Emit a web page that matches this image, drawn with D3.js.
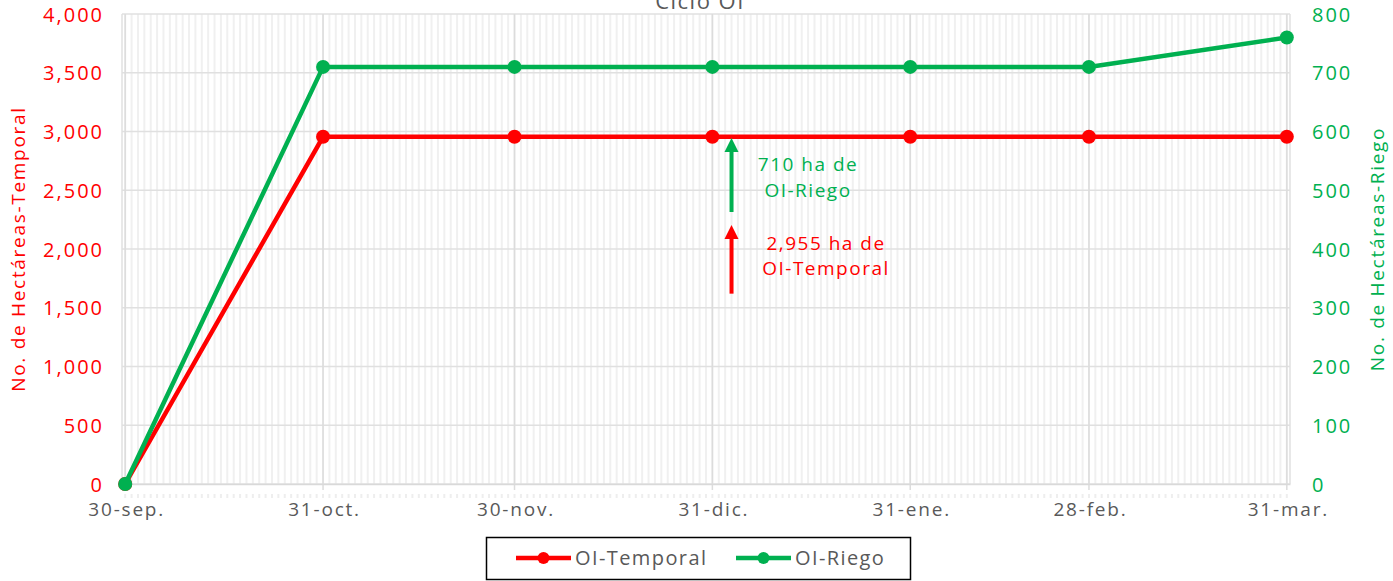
<!DOCTYPE html>
<html>
<head>
<meta charset="utf-8">
<script src="https://cdn.jsdelivr.net/npm/d3@7"></script>
<style>
  body { margin: 0; background: #fff; }
  text { font-family: "Open Sans", "Noto Sans", sans-serif; }
</style>
</head>
<body>
<div id="chart"></div>
<script>
// data
var dates = ["2022-09-30", "2022-10-31", "2022-11-30", "2022-12-31", "2023-01-31", "2023-02-28", "2023-03-31"];
var tickLabels = ["30-sep.", "31-oct.", "30-nov.", "31-dic.", "31-ene.", "28-feb.", "31-mar."];
var temporal = [0, 2955, 2955, 2955, 2955, 2955, 2955];
var riego = [0, 710, 710, 710, 710, 710, 760];
var leftTicks = [0, 500, 1000, 1500, 2000, 2500, 3000, 3500, 4000];
var rightTicks = [0, 100, 200, 300, 400, 500, 600, 700, 800];
// annotation arrows: [date, from value, to value] on the left axis
var riegoArrow = ["2023-01-03", 2315, 2945];
var temporalArrow = ["2023-01-03", 1620, 2205];

var red = "#FF0000", green = "#00B050", grey = "#595959";

var W = 1393, H = 581,
    plot = {left: 122, right: 1290, top: 14, bottom: 484};

var parse = d3.utcParse("%Y-%m-%d");
var days = dates.map(parse);

var svg = d3.select("#chart").append("svg")
    .attr("width", W)
    .attr("height", H);

var x = d3.scaleUtc()
    .domain([d3.utcHour.offset(days[0], -12), d3.utcHour.offset(days[days.length - 1], 12)])
    .range([plot.left, plot.right]);
var yL = d3.scaleLinear().domain([0, 4000]).range([plot.bottom, plot.top]);
var yR = d3.scaleLinear().domain([0, 800]).range([plot.bottom, plot.top]);

// daily minor gridlines
var allDays = d3.utcDay.range(days[0], d3.utcDay.offset(days[days.length - 1], 1));
svg.append("g").selectAll("line")
    .data(allDays)
    .enter()
    .append("line")
    .attr("x1", function(d){ return x(d); })
    .attr("x2", function(d){ return x(d); })
    .attr("y1", plot.top)
    .attr("y2", plot.bottom)
    .attr("stroke", "#F0F0F0")
    .attr("stroke-width", 2);

// faint minor ticks under axis
svg.append("g").selectAll("line")
    .data(allDays)
    .enter()
    .append("line")
    .attr("x1", function(d){ return x(d); })
    .attr("x2", function(d){ return x(d); })
    .attr("y1", plot.bottom + 10)
    .attr("y2", plot.bottom + 14)
    .attr("stroke", "#EEEEEE")
    .attr("stroke-width", 2);

// horizontal major gridlines
svg.append("g").selectAll("line")
    .data(leftTicks)
    .enter()
    .append("line")
    .attr("x1", plot.left)
    .attr("x2", plot.right)
    .attr("y1", function(d){ return yL(d); })
    .attr("y2", function(d){ return yL(d); })
    .attr("stroke", "#E0E0E0")
    .attr("stroke-width", 1.5);

// vertical major gridlines + ticks
svg.append("g").selectAll("line")
    .data(days)
    .enter()
    .append("line")
    .attr("x1", function(d){ return x(d); })
    .attr("x2", function(d){ return x(d); })
    .attr("y1", plot.top)
    .attr("y2", plot.bottom + 6)
    .attr("stroke", "#DCDCDC")
    .attr("stroke-width", 1.5);

// plot border sides
svg.append("line")
    .attr("x1", plot.left).attr("x2", plot.left)
    .attr("y1", plot.top).attr("y2", plot.bottom)
    .attr("stroke", "#E0E0E0").attr("stroke-width", 1.5);
svg.append("line")
    .attr("x1", plot.right).attr("x2", plot.right)
    .attr("y1", plot.top).attr("y2", plot.bottom)
    .attr("stroke", "#E0E0E0").attr("stroke-width", 1.5);

// x axis
var xAxis = d3.axisBottom(x)
    .tickValues(days)
    .tickFormat(function(d, i){ return tickLabels[i]; })
    .tickSize(0)
    .tickPadding(19);
var gx = svg.append("g")
    .attr("transform", "translate(0," + plot.bottom + ")")
    .call(xAxis);
gx.select(".domain").attr("stroke", "#D9D9D9").attr("stroke-width", 1.5);
gx.selectAll("text")
    .attr("fill", grey)
    .attr("dx", "1px")
    .style("letter-spacing", "1.8px")
    .style("font-size", "19px");

// left axis
var gl = svg.append("g")
    .attr("transform", "translate(" + (plot.left - 20) + ",0)")
    .call(d3.axisLeft(yL).tickValues(leftTicks).tickFormat(d3.format(",")).tickSize(0));
gl.select(".domain").remove();
gl.selectAll("text")
    .attr("fill", red)
    .attr("x", 2)
    .attr("dy", "0.36em")
    .style("letter-spacing", "2px")
    .style("font-size", "20px");

// right axis
var gr = svg.append("g")
    .attr("transform", "translate(" + (plot.right + 22) + ",0)")
    .call(d3.axisRight(yR).tickValues(rightTicks).tickSize(0));
gr.select(".domain").remove();
gr.selectAll("text")
    .attr("fill", green)
    .attr("x", 0)
    .attr("dy", "0.36em")
    .style("letter-spacing", "2px")
    .style("font-size", "20px");

// axis titles
svg.append("text")
    .attr("transform", "translate(25," + ((plot.top + plot.bottom) / 2) + ") rotate(-90)")
    .attr("text-anchor", "middle")
    .attr("fill", red)
    .style("letter-spacing", "1.7px")
    .style("font-size", "19px")
    .text("No. de Hectáreas-Temporal");
svg.append("text")
    .attr("transform", "translate(1384," + ((plot.top + plot.bottom) / 2) + ") rotate(-90)")
    .attr("text-anchor", "middle")
    .attr("fill", green)
    .style("letter-spacing", "1.7px")
    .style("font-size", "19px")
    .text("No. de Hectáreas-Riego");

// title
svg.append("text")
    .attr("x", 700)
    .attr("y", 9)
    .attr("text-anchor", "middle")
    .attr("fill", grey)
    .style("letter-spacing", "1.5px")
    .style("font-size", "22px")
    .text("Ciclo OI");

// lines
var tData = days.map(function(d, i){ return {date: d, v: temporal[i]}; });
var rData = days.map(function(d, i){ return {date: d, v: riego[i]}; });

var lineL = d3.line()
    .x(function(d){ return x(d.date); })
    .y(function(d){ return yL(d.v); });
var lineR = d3.line()
    .x(function(d){ return x(d.date); })
    .y(function(d){ return yR(d.v); });

svg.append("path")
    .attr("d", lineL(tData))
    .attr("stroke", red)
    .attr("stroke-width", 4.5)
    .attr("fill", "none");
svg.append("g").selectAll("circle")
    .data(tData)
    .enter()
    .append("circle")
    .attr("cx", function(d){ return x(d.date); })
    .attr("cy", function(d){ return yL(d.v); })
    .attr("r", 7)
    .attr("fill", red);

svg.append("path")
    .attr("d", lineR(rData))
    .attr("stroke", green)
    .attr("stroke-width", 4.5)
    .attr("fill", "none");
svg.append("g").selectAll("circle")
    .data(rData)
    .enter()
    .append("circle")
    .attr("cx", function(d){ return x(d.date); })
    .attr("cy", function(d){ return yR(d.v); })
    .attr("r", 7)
    .attr("fill", green);

// annotation arrows
function arrow(a, color){
    var ax = x(parse(a[0])), y0 = yL(a[1]), y1 = yL(a[2]);
    svg.append("line")
        .attr("x1", ax).attr("x2", ax)
        .attr("y1", y0).attr("y2", y1 + 12)
        .attr("stroke", color)
        .attr("stroke-width", 4);
    svg.append("path")
        .attr("d", "M" + ax + "," + y1 + " L" + (ax - 7) + "," + (y1 + 14) + " L" + (ax + 7) + "," + (y1 + 14) + " Z")
        .attr("fill", color);
}
arrow(riegoArrow, green);
arrow(temporalArrow, red);

var note1 = svg.append("text")
    .attr("text-anchor", "middle")
    .attr("fill", green)
    .style("letter-spacing", "1.5px")
    .style("font-size", "19px");
note1.append("tspan").attr("x", 808).attr("y", 171).text("710 ha de");
note1.append("tspan").attr("x", 808).attr("y", 197).text("OI-Riego");

var note2 = svg.append("text")
    .attr("text-anchor", "middle")
    .attr("fill", red)
    .style("letter-spacing", "1.5px")
    .style("font-size", "19px");
note2.append("tspan").attr("x", 826).attr("y", 250).text("2,955 ha de");
note2.append("tspan").attr("x", 826).attr("y", 275).text("OI-Temporal");

// legend
var legend = svg.append("g");
legend.append("rect")
    .attr("x", 486.5).attr("y", 537.5)
    .attr("width", 424).attr("height", 42)
    .attr("fill", "#fff")
    .attr("stroke", "#000")
    .attr("stroke-width", 1.5);
var items = [{name: "OI-Temporal", color: red, x: 516}, {name: "OI-Riego", color: green, x: 736}];
items.forEach(function(it){
    legend.append("line")
        .attr("x1", it.x).attr("x2", it.x + 55)
        .attr("y1", 558).attr("y2", 558)
        .attr("stroke", it.color).attr("stroke-width", 4.5);
    legend.append("circle")
        .attr("cx", it.x + 27.5).attr("cy", 558).attr("r", 6)
        .attr("fill", it.color);
    legend.append("text")
        .attr("x", it.x + 59).attr("y", 558)
        .attr("dy", "0.36em")
        .attr("fill", grey)
        .style("letter-spacing", "1.4px")
        .style("font-size", "20px")
        .text(it.name);
});
</script>
</body>
</html>
